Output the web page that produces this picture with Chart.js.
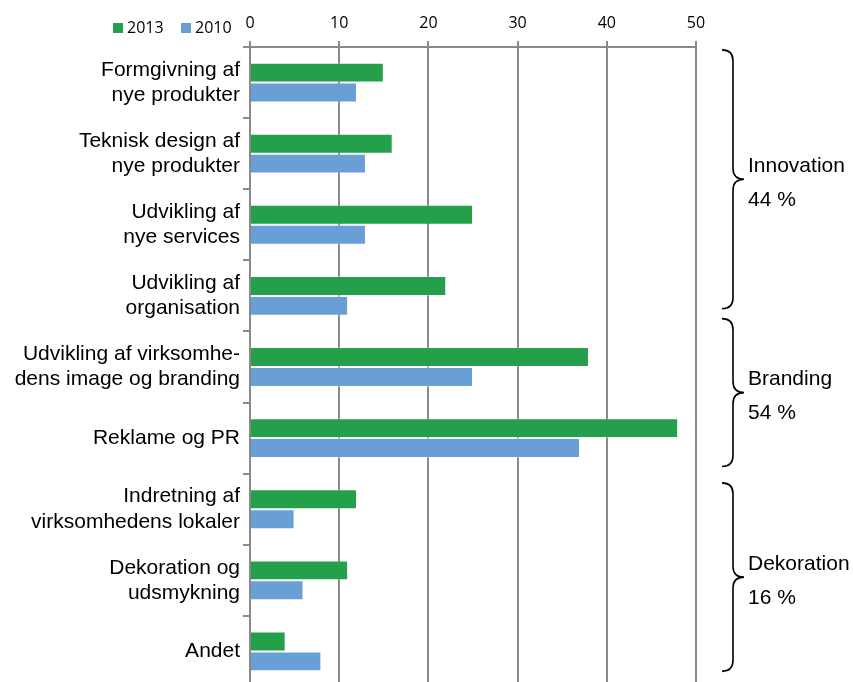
<!DOCTYPE html>
<html>
<head>
<meta charset="utf-8">
<script src="https://cdn.jsdelivr.net/npm/chart.js@4.4.1/dist/chart.umd.min.js"></script>
<style>
  html, body { margin: 0; padding: 0; background: #fff; overflow: hidden; }
  #wrap { width: 853px; height: 682px; overflow: hidden; }
</style>
</head>
<body>
<div id="wrap"><canvas id="designChart" width="853" height="687"></canvas></div>
<script>
const categories = [
    ["Formgivning af", "nye produkter"],
    ["Teknisk design af", "nye produkter"],
    ["Udvikling af", "nye services"],
    ["Udvikling af", "organisation"],
    ["Udvikling af virksomhe-", "dens image og branding"],
    ["Reklame og PR"],
    ["Indretning af", "virksomhedens lokaler"],
    ["Dekoration og", "udsmykning"],
    ["Andet"]
];
const values2013 = [15, 16, 25, 22, 38, 48, 12, 11, 4];
const values2010 = [12, 13, 13, 11, 25, 37, 5, 6, 8];
const xTicks = [0, 10, 20, 30, 40, 50];

// groups shown with a curly brace on the right (from/to in category units)
const groups = [
    { name: "Innovation", share: "44 %", from: -0.46, to: 3.18 },
    { name: "Branding", share: "54 %", from: 3.32, to: 5.4 },
    { name: "Dekoration", share: "16 %", from: 5.63, to: 8.28 }
];

const green = "#25a04a";
const blue = "#6a9fd6";
const axisGray = "#8a8a8a";

// little legend in the top-left corner
const cornerLegend = {
    id: "cornerLegend",
    afterDraw(chart) {
        const ctx = chart.ctx;
        const items = chart.data.datasets;
        let x = 113;
        ctx.save();
        ctx.font = "16px 'Open Sans'";
        ctx.textBaseline = "middle";
        items.forEach(ds => {
            ctx.fillStyle = ds.backgroundColor;
            ctx.fillRect(x, 23, 10, 10);
            ctx.fillStyle = "#000";
            ctx.fillText(ds.label, x + 14, 28);
            x += 68;
        });
        ctx.restore();
    }
};

// curly braces and group labels right of the plot
const groupBraces = {
    id: "groupBraces",
    afterDraw(chart) {
        const ctx = chart.ctx;
        const y = chart.scales.y;
        const bx = 733;
        const w = 11;
        ctx.save();
        ctx.strokeStyle = "#000";
        ctx.lineWidth = 1.6;
        groups.forEach(g => {
            const top = y.getPixelForValue(g.from);
            const bot = y.getPixelForValue(g.to);
            const mid = (top + bot) / 2;
            ctx.beginPath();
            ctx.moveTo(bx - w, top);
            ctx.quadraticCurveTo(bx, top, bx, top + w);
            ctx.lineTo(bx, mid - w);
            ctx.quadraticCurveTo(bx, mid, bx + w, mid);
            ctx.quadraticCurveTo(bx, mid, bx, mid + w);
            ctx.lineTo(bx, bot - w);
            ctx.quadraticCurveTo(bx, bot, bx - w, bot);
            ctx.stroke();

            ctx.fillStyle = "#000";
            ctx.font = "21px 'Liberation Sans'";
            ctx.textBaseline = "middle";
            ctx.fillText(g.name, 748, mid - 13);
            ctx.fillText(g.share, 748, mid + 21);
        });
        ctx.restore();
    }
};

new Chart(
    document.getElementById("designChart"),
    {
        type: "bar",
        data: {
            labels: categories,
            datasets: [
                {
                    label: "2013",
                    data: values2013,
                    backgroundColor: green,
                    borderColor: "rgba(255,255,255,0.3)",
                    borderWidth: 1
                },
                {
                    label: "2010",
                    data: values2010,
                    backgroundColor: blue,
                    borderColor: "rgba(255,255,255,0.4)",
                    borderWidth: 1
                }
            ]
        },
        options: {
            indexAxis: "y",
            responsive: false,
            animation: false,
            categoryPercentage: 0.56,
            barPercentage: 1,
            layout: {
                padding: { left: 0, right: 157, top: 0, bottom: 0 }
            },
            plugins: {
                legend: { display: false },
                tooltip: { enabled: false }
            },
            scales: {
                x: {
                    position: "top",
                    min: 0,
                    max: 50,
                    afterBuildTicks(scale) {
                        scale.ticks = xTicks.map(v => ({ value: v }));
                    },
                    afterFit(scale) {
                        scale.height = 47;
                        scale.paddingLeft = 0;
                        scale.paddingRight = 0;
                    },
                    border: { display: true, color: axisGray, width: 2 },
                    grid: {
                        color: axisGray,
                        lineWidth: 2,
                        drawTicks: true,
                        tickLength: 6
                    },
                    ticks: {
                        color: "#000",
                        padding: 8,
                        font: { family: "'Open Sans'", size: 16 }
                    }
                },
                y: {
                    afterFit(scale) {
                        scale.width = 250;
                        scale.paddingTop = 0;
                        scale.paddingBottom = 0;
                    },
                    border: { display: true, color: axisGray, width: 2 },
                    grid: {
                        offset: true,
                        drawOnChartArea: false,
                        color: axisGray,
                        lineWidth: 2,
                        tickLength: 7
                    },
                    ticks: {
                        color: "#000",
                        padding: 3,
                        font: { family: "'Liberation Sans'", size: 21, lineHeight: 1.2 }
                    }
                }
            }
        },
        plugins: [cornerLegend, groupBraces]
    }
);
</script>
</body>
</html>
